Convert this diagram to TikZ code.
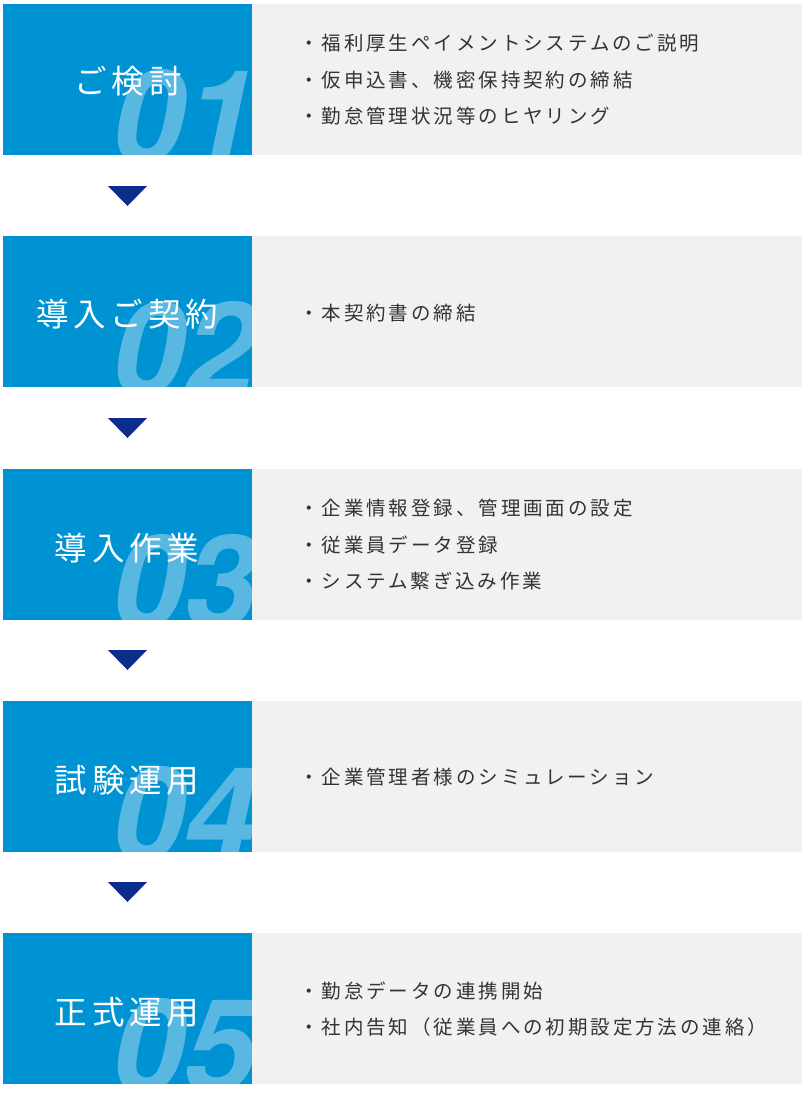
\documentclass[tikz,border=0pt]{standalone}
\usepackage{fontspec}
\usepackage{tikz}
\newfontfamily\jpfont{Noto Sans CJK JP}[LetterSpace=15]
\newfontfamily\numfont{TeX Gyre Heros}
\definecolor{stepblue}{RGB}{0,147,211}
\definecolor{infogrey}{RGB}{241,241,241}
\definecolor{arrownavy}{RGB}{14,44,140}
\definecolor{textgrey}{RGB}{51,51,51}
\tikzset{
  steptitle/.style={text=white, font=\jpfont\fontsize{32.5}{32.5}\selectfont, inner sep=0pt},
  stepnum/.style={text=white, opacity=0.35, font=\numfont\bfseries\itshape\fontsize{130}{130}\selectfont, inner sep=0pt, anchor=base east},
  steplist/.style={text=textgrey, font=\jpfont\fontsize{19.5}{36.5}\selectfont, align=left, anchor=west, inner sep=0pt},
  downarrow/.style={fill=arrownavy}
}
\begin{document}
\begin{tikzpicture}[x=1pt,y=-1pt]
\useasboundingbox (0,0) rectangle (809,1096);
% step 1
\fill[stepblue] (3,4) rectangle (252,155) ; % box1
\fill[infogrey] (252,4) rectangle (802,155) ; % info1
\begin{scope}\clip (3,4) rectangle (252,155);
\node[stepnum] (num1) at (257,163) {01};
\end{scope}
\node[steptitle] (title1) at (128,81) {ご検討};
\node[steplist] (list1) at (299,80) {・福利厚生ペイメントシステムのご説明\\・仮申込書、機密保持契約の締結\\・勤怠管理状況等のヒヤリング};
\fill[downarrow] (108,186) -- (147,186) -- (127.5,206) -- cycle ; % arrow1
% step 2
\fill[stepblue] (3,236) rectangle (252,387) ; % box2
\fill[infogrey] (252,236) rectangle (802,387) ; % info2
\begin{scope}\clip (3,236) rectangle (252,387);
\node[stepnum] (num2) at (257,395) {02};
\end{scope}
\node[steptitle] (title2) at (127,314) {導入ご契約};
\node[steplist] (list2) at (299,313) {・本契約書の締結};
\fill[downarrow] (108,418) -- (147,418) -- (127.5,438) -- cycle ; % arrow2
% step 3
\fill[stepblue] (3,469) rectangle (252,620) ; % box3
\fill[infogrey] (252,469) rectangle (802,620) ; % info3
\begin{scope}\clip (3,469) rectangle (252,620);
\node[stepnum] (num3) at (257,628) {03};
\end{scope}
\node[steptitle] (title3) at (127,548) {導入作業};
\node[steplist] (list3) at (299,545) {・企業情報登録、管理画面の設定\\・従業員データ登録\\・システム繋ぎ込み作業};
\fill[downarrow] (108,650) -- (147,650) -- (127.5,670) -- cycle ; % arrow3
% step 4
\fill[stepblue] (3,701) rectangle (252,852) ; % box4
\fill[infogrey] (252,701) rectangle (802,852) ; % info4
\begin{scope}\clip (3,701) rectangle (252,852);
\node[stepnum] (num4) at (257,860) {04};
\end{scope}
\node[steptitle] (title4) at (127,780) {試験運用};
\node[steplist] (list4) at (299,777) {・企業管理者様のシミュレーション};
\fill[downarrow] (108,882) -- (147,882) -- (127.5,902) -- cycle ; % arrow4
% step 5
\fill[stepblue] (3,933) rectangle (252,1084) ; % box5
\fill[infogrey] (252,933) rectangle (802,1084) ; % info5
\begin{scope}\clip (3,933) rectangle (252,1084);
\node[stepnum] (num5) at (257,1092) {05};
\end{scope}
\node[steptitle] (title5) at (127,1012) {正式運用};
\node[steplist] (list5) at (299,1009) {・勤怠データの連携開始\\・社内告知（従業員への初期設定方法の連絡）};
\end{tikzpicture}
\end{document}
